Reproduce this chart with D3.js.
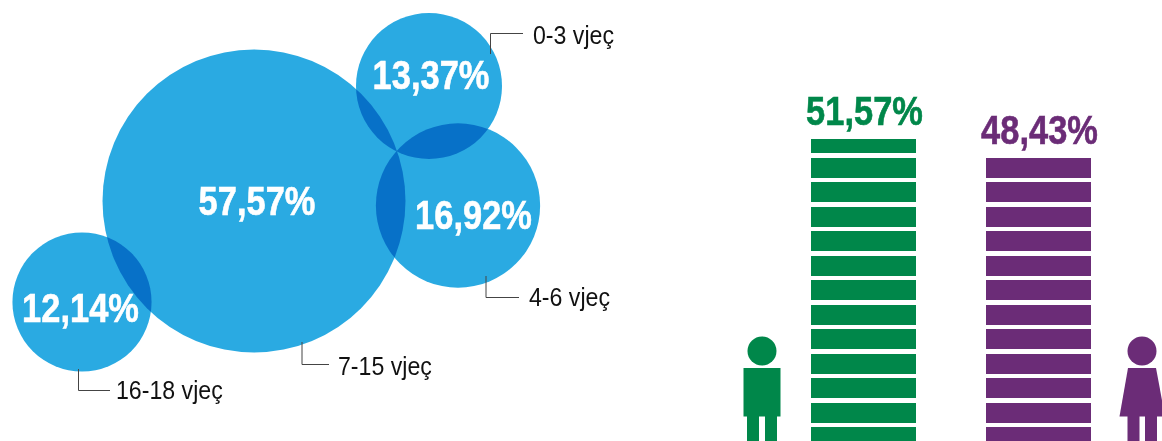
<!DOCTYPE html>
<html>
<head>
<meta charset="utf-8">
<script src="https://cdn.jsdelivr.net/npm/d3@7"></script>
<style>
  html, body { margin: 0; padding: 0; background: #fff; overflow: hidden; }
  svg { display: block; }
  text { font-family: "Liberation Sans", sans-serif; }
</style>
</head>
<body>
<div id="chart"></div>
<script>
var w = 1162;
var h = 441;

// age groups, share of children in %
var ageGroups = ['0-3 vjeç', '4-6 vjeç', '7-15 vjeç', '16-18 vjeç'];
var ageValues = [13.37, 16.92, 57.57, 12.14];

// boys / girls, share in %
var genderValues = [51.57, 48.43];

var fmt = function(v) { return v.toFixed(2).replace('.', ',') + '%'; };

// hand placed layout, same order as ageGroups
var centres = [[429, 86], [458, 205.5], [254, 201], [82, 302]];
var valueSpots = [[431, 89], [473.5, 229], [257, 215], [80.5, 322]];
var labelSpots = [[533, 44], [529, 306], [338, 375], [116, 398.5]];
var leaders = [
  [[490.5, 54], [490.5, 33.5], [523, 33.5]],
  [[486, 276], [486, 297.5], [519, 297.5]],
  [[302, 342], [302, 364.5], [329, 364.5]],
  [[78.5, 369], [78.5, 390.5], [110, 390.5]]
];

// no condensed face installed, so squeeze the text sideways
var squeezeBold = 0.84;
var squeezeLabel = 0.89;

var svg = d3.select('#chart').append('svg')
  .attr('width', w)
  .attr('height', h);

// area of a bubble follows the value
var r = d3.scaleSqrt().domain([0, 57.57]).range([0, 151.5]);

svg.append('g').selectAll('circle')
  .data(ageValues)
  .enter()
  .append('circle')
  .attr('cx', function(d, i) { return centres[i][0]; })
  .attr('cy', function(d, i) { return centres[i][1]; })
  .attr('r', function(d) { return r(d); })
  .attr('fill', '#2aaae2')
  .style('mix-blend-mode', 'multiply');

svg.append('g').selectAll('text')
  .data(ageValues)
  .enter()
  .append('text')
  .attr('transform', function(d, i) {
    return 'translate(' + valueSpots[i][0] + ',' + valueSpots[i][1] + ') scale(' + squeezeBold + ',1)';
  })
  .attr('text-anchor', 'middle')
  .attr('font-size', 41)
  .attr('font-weight', 'bold')
  .attr('fill', '#fff')
  .attr('stroke', '#fff')
  .attr('stroke-width', 0.6)
  .text(fmt);

var line = d3.line();
svg.append('g').selectAll('path')
  .data(leaders)
  .enter()
  .append('path')
  .attr('d', line)
  .attr('fill', 'none')
  .attr('stroke', '#444')
  .attr('stroke-width', 1);

svg.append('g').selectAll('text')
  .data(ageGroups)
  .enter()
  .append('text')
  .attr('transform', function(d, i) {
    return 'translate(' + labelSpots[i][0] + ',' + labelSpots[i][1] + ') scale(' + squeezeLabel + ',1)';
  })
  .attr('font-size', 26)
  .attr('fill', '#111')
  .text(function(d) { return d; });

// striped columns, they run off the bottom of the page
var y = d3.scaleLinear().domain([0, 51.57]).range([451, 139]);
var barX = [811, 986];
var barW = 105;
var barColors = ['#00874a', '#6b2c77'];
var stripeStep = 24.46;
var stripeH = 20;
var stripeStart = 133.45;

genderValues.forEach(function(v, i) {
  var top = Math.round(y(v));
  var stripes = d3.range(0, 14).map(function(k) {
    var a = Math.round(stripeStart + k * stripeStep);
    return { y0: Math.max(a, top), y1: Math.min(a + stripeH, h) };
  }).filter(function(s) { return s.y1 > s.y0; });

  svg.append('g').selectAll('rect')
    .data(stripes)
    .enter()
    .append('rect')
    .attr('x', barX[i])
    .attr('y', function(s) { return s.y0; })
    .attr('width', barW)
    .attr('height', function(s) { return s.y1 - s.y0; })
    .attr('fill', barColors[i]);

  svg.append('text')
    .attr('transform', 'translate(' + (barX[i] + barW / 2 + 1) + ',' + (top - 14) + ') scale(' + squeezeBold + ',1)')
    .attr('text-anchor', 'middle')
    .attr('font-size', 41)
    .attr('font-weight', 'bold')
    .attr('fill', barColors[i])
    .attr('stroke', barColors[i])
    .attr('stroke-width', 0.6)
    .text(fmt(v));
});

// man
var man = svg.append('g').attr('fill', barColors[0]);
man.append('circle').attr('cx', 762).attr('cy', 351).attr('r', 14.5);
man.append('rect').attr('x', 743.5).attr('y', 368).attr('width', 37).attr('height', 48.5);
man.append('rect').attr('x', 747).attr('y', 416).attr('width', 12).attr('height', 25);
man.append('rect').attr('x', 765).attr('y', 416).attr('width', 12).attr('height', 25);

// woman
var woman = svg.append('g').attr('fill', barColors[1]);
woman.append('circle').attr('cx', 1142).attr('cy', 351).attr('r', 14.5);
woman.append('path').attr('d', line([[1128, 368], [1156, 368], [1165, 416.5], [1119.5, 416.5]]) + 'Z');
woman.append('rect').attr('x', 1127.5).attr('y', 416).attr('width', 12).attr('height', 25);
woman.append('rect').attr('x', 1145).attr('y', 416).attr('width', 12).attr('height', 25);
</script>
</body>
</html>
